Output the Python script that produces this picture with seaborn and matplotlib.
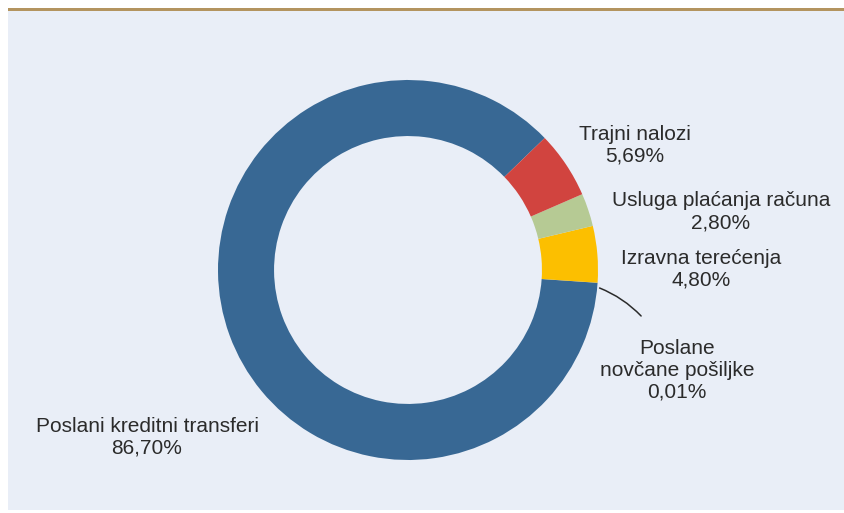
import matplotlib
matplotlib.use("Agg")
import matplotlib.pyplot as plt
import seaborn as sns
from matplotlib.patches import Rectangle

# Podaci
kategorije = ["Poslani kreditni transferi", "Poslane\nnovčane pošiljke", "Izravna terećenja",
              "Usluga plaćanja računa", "Trajni nalozi"]
udjeli = [86.70, 0.01, 4.80, 2.80, 5.69]
oznake = ["86,70%", "0,01%", "4,80%", "2,80%", "5,69%"]
boje = ["#386894", "#386894", "#fcbf00", "#b6ca94", "#d1443f"]

sns.set_style("white")
plt.rcParams["font.family"] = ["Liberation Sans", "DejaVu Sans"]

W, H = 845, 513
fig = plt.figure(figsize=(W / 100, H / 100), dpi=100)
fig.patch.set_facecolor("white")

# pozadina panela i zlatna linija na vrhu
fig.patches.append(Rectangle((8 / W, (H - 510) / H), (845 - 8) / W, (510 - 9) / H,
                             transform=fig.transFigure, facecolor="#e9eef7", edgecolor="none", zorder=-2))
fig.patches.append(Rectangle((8 / W, (H - 10.5) / H), (845 - 8) / W, 2.5 / H,
                             transform=fig.transFigure, facecolor="#b3945f", edgecolor="none", zorder=-1))

cx, cy, r = 408, 270, 190
ax = fig.add_axes([(cx - r) / W, (H - cy - r) / H, 2 * r / W, 2 * r / H])
ax.set_facecolor("none")
ax.set_zorder(5)

ax.pie(udjeli, colors=boje, startangle=44, counterclock=True, radius=1,
       wedgeprops=dict(width=0.295, edgecolor="none"))
ax.set_xlim(-1, 1)
ax.set_ylim(-1, 1)
ax.set_aspect("equal")
ax.axis("off")

def px(x, y):
    return ((x - cx) / r, (cy - y) / r)

pozicije = [px(147, 437), px(677, 370), px(701, 269), px(721, 212), px(635, 145)]
for kat, ozn, (x, y) in zip(kategorije, oznake, pozicije):
    ax.text(x, y, f"{kat}\n{ozn}", ha="center", va="center", fontsize=15,
            color="#2b2b2b", linespacing=1.2, clip_on=False)

# linija za 0,01%
ax.annotate("", xy=px(597, 287), xytext=px(643, 318),
            arrowprops=dict(arrowstyle="-", color="#2b2b2b", lw=1.1,
                            connectionstyle="arc3,rad=0.12"),
            annotation_clip=False)

fig.savefig("out.png", dpi=100, facecolor="white")
